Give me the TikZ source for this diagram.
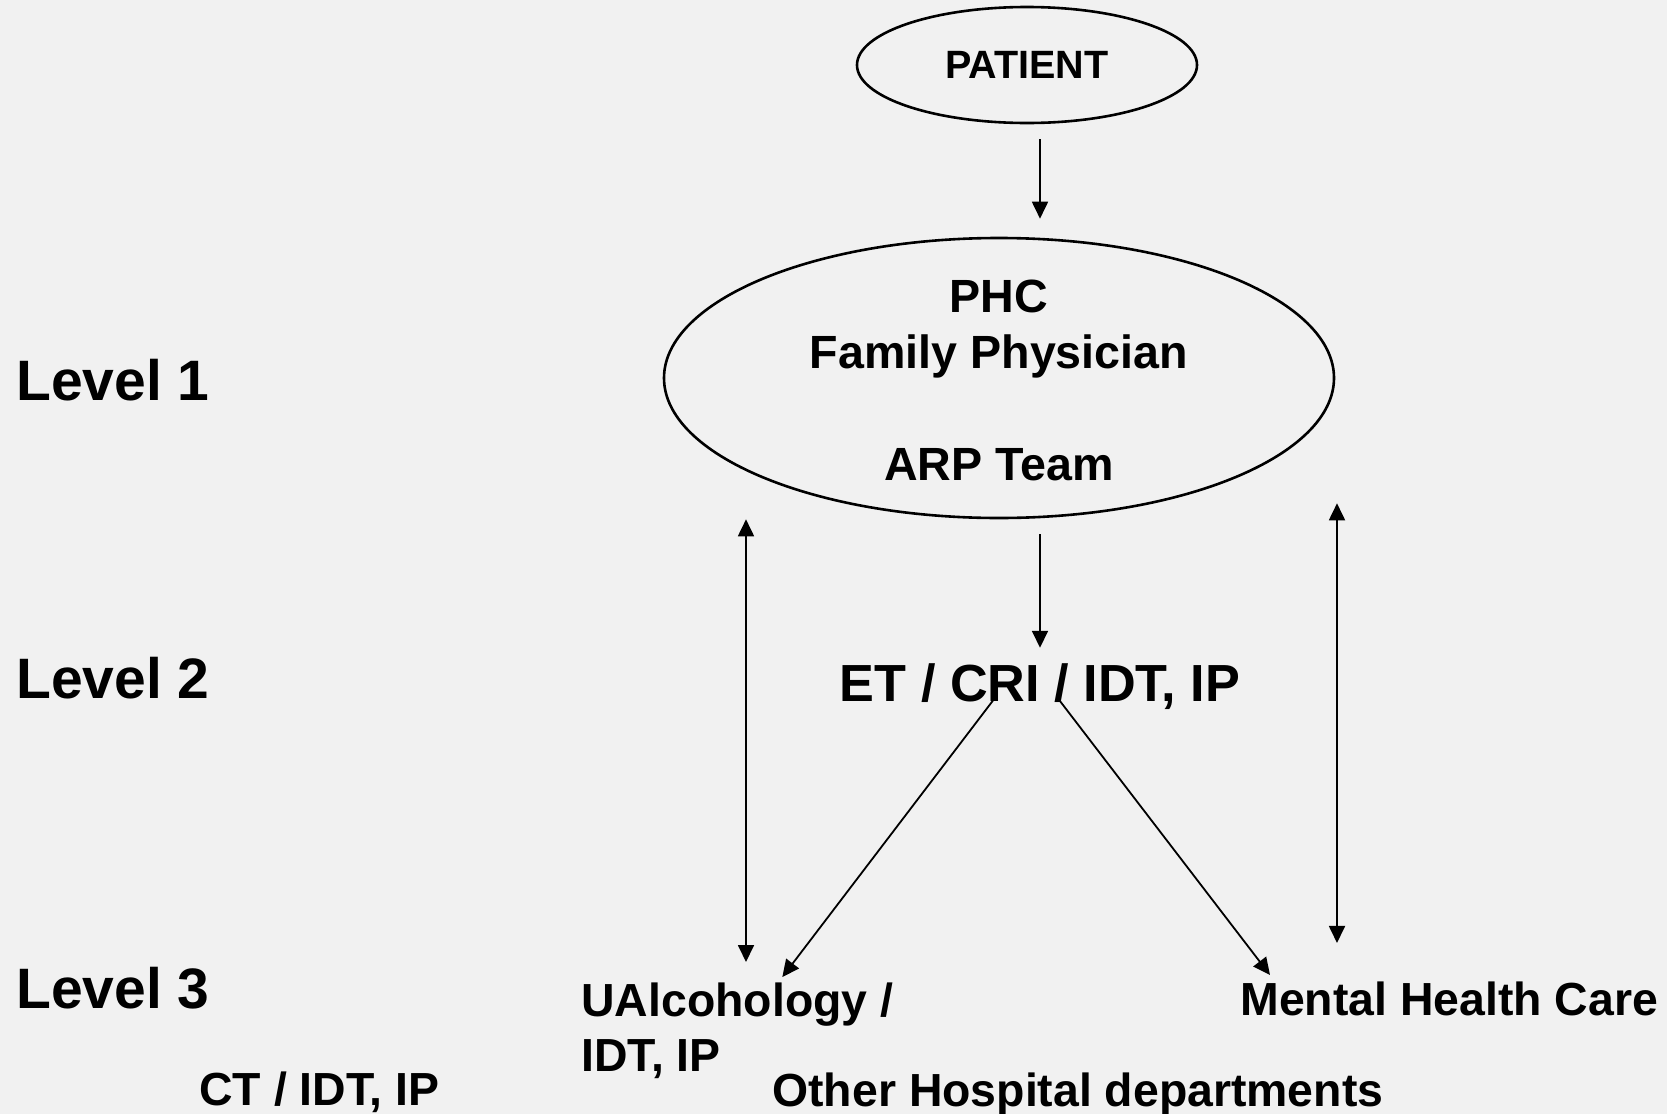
\documentclass[tikz,border=0pt]{standalone}
\usepackage{fontspec}
\setmainfont{Liberation Sans}
\usetikzlibrary{arrows.meta}
\usetikzlibrary{calc}
\usetikzlibrary{shapes.geometric}

\definecolor{paper}{RGB}{241,241,241}

\tikzset{
  oval/.style={draw, ellipse, line width=1.3pt, inner sep=0pt},
  lbl/.style={font=\bfseries\fontsize{23.2}{27.5}\selectfont, inner sep=0pt},
  lvl/.style={font=\bfseries\fontsize{28.5}{33}\selectfont, inner sep=0pt, anchor=base west},
  arr/.style={-{Triangle[length=8.5pt,width=8pt]}, line width=0.9pt},
  dblarr/.style={{Triangle[length=8.5pt,width=8pt]}-{Triangle[length=8.5pt,width=8pt]}, line width=0.9pt},
}

\begin{document}
\begin{tikzpicture}[x=0.5pt, y=-0.5pt]
    \fill[paper] (0,0) rectangle (1667,1114);
    \useasboundingbox (0,0) rectangle (1667,1114);

    % levels
    \node[lvl] (lev1) at (16,400) {Level 1};
    \node[lvl] (lev2) at (16,698) {Level 2};
    \node[lvl] (lev3) at (16,1008) {Level 3};

    % ovals
    \node[oval, minimum width=170pt, minimum height=58pt,
          font=\bfseries\fontsize{19.75}{23}\selectfont] (patient) at (1027,65) {PATIENT};
    \node[oval, minimum width=335pt, minimum height=140pt] (phc) at (999,378) {};
    \node[lbl, align=center, font=\bfseries\fontsize{23.3}{28}\selectfont] (phctext) at (999,380)
        {PHC\\Family Physician\\\mbox{}\\ARP Team};

    % level 2 and 3
    \node[lbl, anchor=base, font=\bfseries\fontsize{26.1}{30}\selectfont] (et) at (1040,701) {ET / CRI / IDT, IP};
    \node[lbl, anchor=north west, align=left] (alc) at (581,982) {UAlcohology /\\IDT, IP};
    \node[lbl, anchor=base west] (mental) at (1240,1015) {Mental Health Care};
    \node[lbl, anchor=base west] (other) at (772,1106) {Other Hospital departments};
    \node[lbl, anchor=base west] (ct) at (199,1105) {CT / IDT, IP};

    % connectors
    \draw[arr] ($(patient.south -| et.north)+(0,15)$) -- ($(phc.north -| et.north)+(0,-18)$);
    \draw[arr] ($(phc.south -| et.north)+(0,15)$) -- ($(et.north)+(0,-15)$);
    \draw[arr] ($(et.south)+(-47,-9)$) -- ($(alc.north)+(45,-5)$);
    \draw[arr] ($(et.south)+(18,-11)$) -- ($(mental.north west)+(30,-6)$);
    \draw[dblarr] ($(phc.south)+(-253,0)$) -- ($(alc.north west)+(165,-20)$);
    \draw[dblarr] ($(phc.south)+(338,-16)$) -- ($(mental.north west)+(97,-38)$);
\end{tikzpicture}
\end{document}
